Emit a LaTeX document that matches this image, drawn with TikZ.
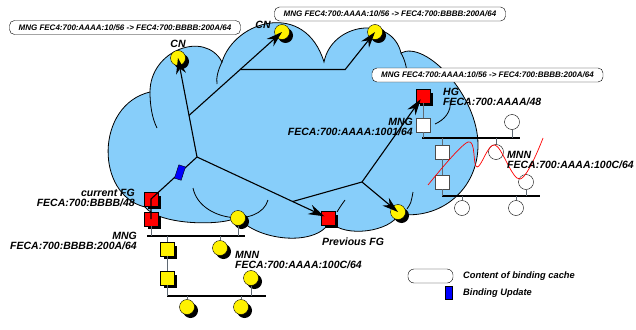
\documentclass[tikz,border=0pt]{standalone}
\usepackage{fontspec}
\setmainfont{Liberation Sans}
\usetikzlibrary{arrows.meta, positioning, shadows, calc}

\definecolor{cloudblue}{RGB}{135,206,250}
\definecolor{stubgray}{RGB}{95,105,115}

\begin{document}
\begin{tikzpicture}[
    x=1pt, y=-1pt,
    boxshadow/.style={drop shadow={shadow xshift=3.5pt, shadow yshift=-3.5pt, opacity=1, fill=black}},
    ycirc/.style={circle, draw=black, fill=yellow, minimum size=15pt, inner sep=0pt, boxshadow},
    wcirc/.style={circle, draw=black, fill=white, minimum size=15pt, inner sep=0pt},
    rsq/.style={rectangle, draw=black, fill=red, minimum size=13.5pt, inner sep=0pt, boxshadow},
    ysq/.style={rsq, fill=yellow},
    wsq/.style={rectangle, draw=black!70, fill=white, minimum size=14pt, inner sep=0pt},
    bus/.style={line width=1.4pt},
    stub/.style={stubgray, line width=0.8pt},
    link/.style={line width=1.1pt},
    arrow/.style={line width=1.1pt, -{Stealth[length=16pt, width=10pt]}},
    cache/.style={rectangle, rounded corners=5pt, draw=black, fill=white, minimum width=231pt, minimum height=14pt, inner sep=0pt, font=\fontsize{8}{9}\selectfont\bfseries\itshape},
    lbl/.style={inner sep=0pt, font=\fontsize{10.5}{10}\selectfont\bfseries\itshape},
    legend/.style={inner sep=0pt, anchor=west, font=\fontsize{9.3}{10}\selectfont\bfseries\itshape},
]
    \useasboundingbox (0,0) rectangle (636,329);

    % Cloud
    \filldraw[fill=cloudblue, draw=black, line width=0.8pt]
        (150,92) .. controls (150,50) and (205,30) .. (222,62)
        .. controls (235,20) and (305,0) .. (324,62)
        .. controls (332,22) and (392,15) .. (401,53)
        .. controls (425,40) and (478,95) .. (478,145)
        .. controls (478,190) and (440,220) .. (399,214)
        .. controls (390,232) and (345,238) .. (330,222)
        .. controls (315,248) and (255,240) .. (238,217)
        .. controls (225,226) and (160,226) .. (145,207)
        .. controls (95,195) and (95,105) .. (150,92) -- cycle;
    \draw[line width=0.8pt] (150,92) .. controls (150,105) and (152,118) .. (157,128);
    \draw[line width=0.8pt] (222,62) .. controls (218,70) and (216,78) .. (217,84);
    \draw[line width=0.8pt] (401,53) .. controls (405,60) and (407,68) .. (407,76);
    \draw[line width=0.8pt] (450,100) .. controls (452,112) and (444,120) .. (435,124);
    \draw[line width=0.8pt] (193,188) .. controls (200,222) and (260,228) .. (268,200);
    \draw[line width=0.8pt] (337,212) .. controls (340,207) .. (345,200);
    \draw[line width=0.8pt] (407,209) .. controls (411,203) .. (413,192);

    % Home network
    \coordinate (barE1) at (422,138);
    \coordinate (barE2) at (520,138);
    \coordinate (barF1) at (442,196);
    \coordinate (barF2) at (540,196);
    \draw[bus] (barE1) -- (barE2);
    \draw[bus] (barF1) -- (barF2);

    \node (hg) [rsq] at (423,96) {};
    \node (mngh) [wsq] at (423,125) {};
    \node (wcA) [wcirc] at (512,122) {};
    \node (wcB) [wcirc] at (496,152) {};
    \node (wsA) [wsq] at (442,152) {};
    \node (wsB) [wsq] at (442,182) {};
    \node (wcC) [wcirc] at (526,182) {};
    \node (wcD) [wcirc] at (462,208) {};
    \node (wcE) [wcirc] at (516,208) {};

    \draw[stub] (hg) -- (mngh);
    \draw[stub] (mngh) -- (mngh |- barE1);
    \draw[stub] (wcA) -- (wcA |- barE1);
    \draw[stub] (wcB) -- (wcB |- barE1);
    \draw[stub] (wsA) -- (wsA |- barE1);
    \draw[stub] (wsA) -- (wsB);
    \draw[stub] (wsB) -- (wsB |- barF1);
    \draw[stub] (wcC) -- (wcC |- barF1);
    \draw[stub] (wcD) -- (wcD |- barF1);
    \draw[stub] (wcE) -- (wcE |- barF1);

    \draw[red, line width=0.7pt] plot[smooth, tension=0.6] coordinates
        {(428,185) (468,142) (477,167) (495,145) (520,179) (543,138)};

    % Visited network
    \coordinate (barC1) at (147,236);
    \coordinate (barC2) at (245,236);
    \coordinate (barD1) at (167,296);
    \coordinate (barD2) at (266,296);
    \draw[bus] (barC1) -- (barC2);
    \draw[bus] (barD1) -- (barD2);

    \node (curfg) [rsq] at (151,199) {};
    \node (mngc) [rsq] at (151,219) {};
    \node (ycA) [ycirc] at (238,218) {};
    \node (ycB) [ycirc] at (220,248) {};
    \node (ysA) [ysq] at (167,249) {};
    \node (ysB) [ysq] at (167,278) {};
    \node (ycC) [ycirc] at (251,278) {};
    \node (ycD) [ycirc] at (187,307) {};
    \node (ycE) [ycirc] at (241,307) {};

    \draw[stub] (mngc) -- (mngc |- barC1);
    \draw[stub] (ycA) -- (ycA |- barC1);
    \draw[stub] (ycB) -- (ycB |- barC1);
    \draw[stub] (ysA) -- (ysA |- barC1);
    \draw[stub] (ysA) -- (ysB);
    \draw[stub] (ysB) -- (ysB |- barD1);
    \draw[stub] (ycC) -- (ycC |- barD1);
    \draw[stub] (ycD) -- (ycD |- barD1);
    \draw[stub] (ycE) -- (ycE |- barD1);

    % Correspondents and routers
    \node (cn1) [ycirc] at (178,58) {};
    \node (cn2) [ycirc] at (282,32) {};
    \node (cn3) [ycirc] at (375,32) {};
    \node (prevfg) [rsq] at (328,218) {};
    \node (ylow) [ycirc] at (398,212) {};

    \coordinate (hubA) at (197,157);
    \coordinate (hubB) at (362,182);
    \coordinate (brA) at ($(hubA)!0.42!(cn1)$);
    \coordinate (brB) at ($(brA)!0.55!(cn2)$);
    \path (brB) ++(105,0) coordinate (kneeB);
    \coordinate (joinB) at ($(hubA)!0.73!(prevfg)$);

    % Labels
    \node (lcn1) [lbl, above=2.5pt of cn1] {CN};
    \node (lcn2) [lbl] at (263,25) {CN};
    \node (lhg) [lbl, anchor=west, align=left] at (443,97) {HG\\FECA:700:AAAA/48};
    \node (lmngh) [lbl, anchor=east, align=right] at (413,127) {MNG\\FECA:700:AAAA:1001/64};
    \node (lmnnh) [lbl, anchor=west, align=left] at (507,160) {MNN\\FECA:700:AAAA:100C/64};
    \node (lcurfg) [lbl, anchor=east, align=right] at (135,198) {current FG\\FECA:700:BBBB/48};
    \node (lmngc) [lbl, anchor=east, align=right] at (137,241) {MNG\\FECA:700:BBBB:200A/64};
    \node (lmnnc) [lbl, anchor=west, align=left] at (235,260) {MNN\\FECA:700:AAAA:100C/64};
    \node (lprev) [lbl] at (353,242) {Previous FG};

    % Routes
    \draw[arrow] (hubA) -- (cn1.center);
    \draw[arrow] (brA) -- (cn2.center);
    \draw[arrow] (brB) -- (kneeB) -- (cn3.center);
    \draw[arrow, shorten >=4pt] (hubA) -- (prevfg.center);
    \draw[link] (hubB) -- (joinB);
    \draw[arrow, shorten >=4pt] (hubB) -- (hg.center);
    \draw[arrow] (hubB) -- (ylow.center);
    \draw[link] (hubA) -- (curfg.center) -- (mngc.center);

    \node (bu) [rectangle, draw=black, fill=blue, minimum width=7pt, minimum height=14pt, inner sep=0pt, rotate=-18] at ($(hubA)!0.37!(curfg)$) {};

    % Binding caches
    \node (cacheA) [cache] at (125,27.5) {MNG FEC4:700:AAAA:10/56 -> FEC4:700:BBBB:200A/64};
    \node (cacheB) [cache] at (390,14) {MNG FEC4:700:AAAA:10/56 -> FEC4:700:BBBB:200A/64};
    \node (cacheC) [cache] at (487.5,75) {MNG FEC4:700:AAAA:10/56 -> FEC4:700:BBBB:200A/64};

    % Legend
    \node (legbox) [rectangle, rounded corners=6pt, draw=black, fill=white, minimum width=45pt, minimum height=14pt, inner sep=0pt] at (430.5,276) {};
    \node (legbu) [rectangle, draw=black, fill=blue, minimum width=7pt, minimum height=13pt, inner sep=0pt] at (448.5,292.5) {};
    \node (legtxtA) [legend] at (463,276) {Content of binding cache};
    \node (legtxtB) [legend] at (463,293) {Binding Update};

\end{tikzpicture}
\end{document}
